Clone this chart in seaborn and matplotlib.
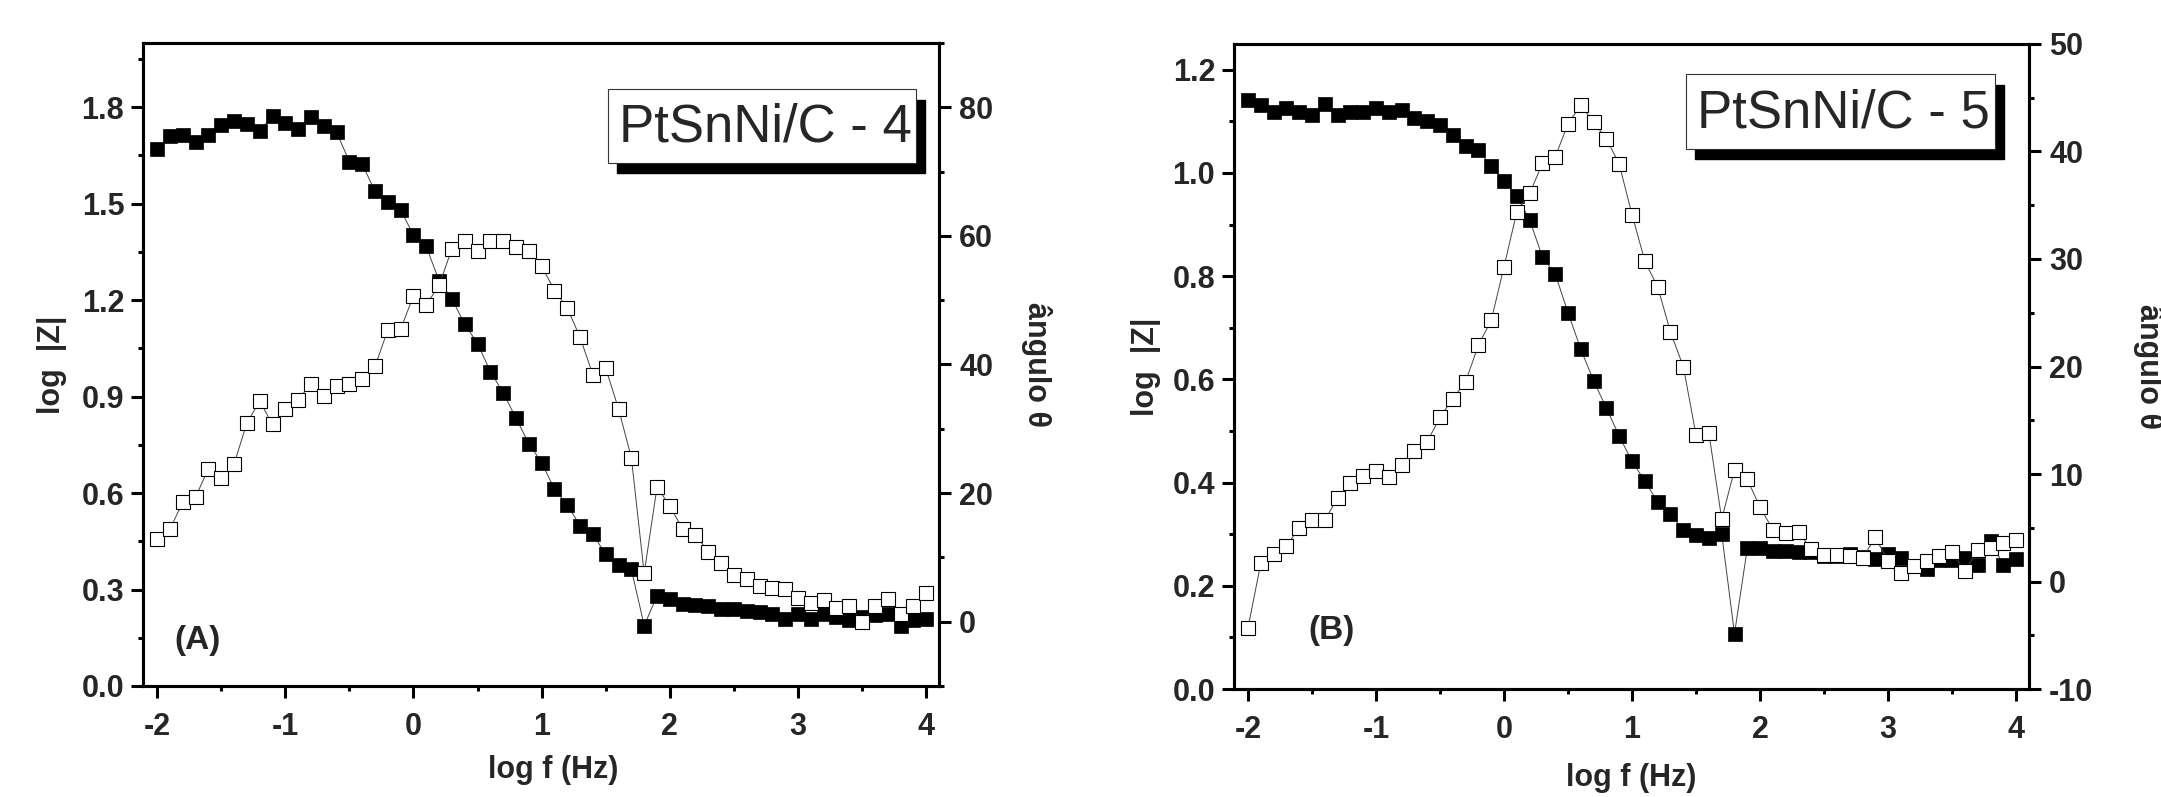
import numpy as np
import pandas as pd
import seaborn as sns
import matplotlib
matplotlib.use('Agg')
import matplotlib.pyplot as plt
from matplotlib.ticker import MultipleLocator
from matplotlib.patches import Rectangle
from matplotlib import font_manager

# eixo x comum: log f (Hz)
log_f = [-2.0, -1.9, -1.8, -1.7, -1.6, -1.5, -1.4, -1.3, -1.2, -1.1,
         -1.0, -0.9, -0.8, -0.7, -0.6, -0.5, -0.4, -0.3, -0.2, -0.1,
         0.0, 0.1, 0.2, 0.3, 0.4, 0.5, 0.6, 0.7, 0.8, 0.9,
         1.0, 1.1, 1.2, 1.3, 1.4, 1.5, 1.6, 1.7, 1.8, 1.9,
         2.0, 2.1, 2.2, 2.3, 2.4, 2.5, 2.6, 2.7, 2.8, 2.9,
         3.0, 3.1, 3.2, 3.3, 3.4, 3.5, 3.6, 3.7, 3.8, 3.9, 4.0]

# (A) PtSnNi/C - 4
logz_a = [1.670, 1.710, 1.713, 1.691, 1.713, 1.746, 1.757, 1.749, 1.726, 1.773,
          1.752, 1.733, 1.770, 1.741, 1.722, 1.631, 1.623, 1.539, 1.504, 1.481,
          1.402, 1.367, 1.260, 1.204, 1.125, 1.065, 0.978, 0.912, 0.833, 0.754,
          0.695, 0.612, 0.564, 0.498, 0.472, 0.409, 0.375, 0.363, 0.188, 0.280,
          0.272, 0.256, 0.253, 0.248, 0.240, 0.240, 0.232, 0.229, 0.224, 0.209,
          0.224, 0.209, 0.224, 0.216, 0.205, 0.216, 0.221, 0.224, 0.185, 0.205, 0.209]
ang_a = [12.8, 14.4, 18.6, 19.4, 23.8, 22.4, 24.5, 30.9, 34.3, 30.7,
         33.1, 34.5, 37.0, 35.1, 36.6, 37.0, 37.7, 39.7, 45.4, 45.5,
         50.7, 49.3, 52.3, 58.0, 59.2, 57.7, 59.2, 59.2, 58.3, 57.7,
         55.3, 51.5, 48.8, 44.2, 38.4, 39.4, 33.1, 25.5, 7.5, 20.9,
         18.0, 14.4, 13.5, 10.9, 9.1, 7.3, 6.7, 5.6, 5.3, 5.1,
         3.7, 2.9, 3.3, 2.1, 2.5, 0.0, 2.5, 3.6, 1.2, 2.4, 4.4]

# (B) PtSnNi/C - 5
logz_b = [1.141, 1.131, 1.119, 1.126, 1.119, 1.113, 1.133, 1.113, 1.119, 1.119,
          1.126, 1.119, 1.123, 1.106, 1.101, 1.093, 1.074, 1.052, 1.044, 1.013,
          0.985, 0.955, 0.909, 0.837, 0.804, 0.729, 0.658, 0.597, 0.544, 0.490,
          0.441, 0.403, 0.362, 0.340, 0.308, 0.298, 0.293, 0.301, 0.107, 0.273,
          0.273, 0.268, 0.268, 0.265, 0.265, 0.258, 0.258, 0.261, 0.255, 0.251,
          0.261, 0.253, 0.238, 0.233, 0.250, 0.250, 0.253, 0.241, 0.286, 0.241, 0.251]
ang_b = [-4.3, 1.7, 2.6, 3.3, 5.0, 5.7, 5.7, 7.8, 9.2, 9.8,
         10.3, 9.7, 10.8, 12.1, 13.0, 15.3, 17.0, 18.6, 22.0, 24.3,
         29.3, 34.4, 36.1, 38.9, 39.5, 42.6, 44.3, 42.7, 41.2, 38.8,
         34.1, 29.8, 27.4, 23.2, 20.0, 13.6, 13.8, 5.8, 10.4, 9.5,
         6.9, 4.8, 4.5, 4.6, 3.0, 2.5, 2.5, 2.4, 2.2, 4.1,
         1.9, 0.8, 1.4, 1.9, 2.4, 2.7, 1.0, 2.9, 3.1, 3.6, 3.9]

df_a = pd.DataFrame({'log_f': log_f, 'logz': logz_a, 'ang': ang_a})
df_b = pd.DataFrame({'log_f': log_f, 'logz': logz_b, 'ang': ang_b})

sns.set_theme(style='white')
plt.rcParams['font.family'] = ['Liberation Sans', 'DejaVu Sans']
plt.rcParams['axes.linewidth'] = 2.2
plt.rcParams['axes.unicode_minus'] = False

# fonte estreita para a caixa, se existir
fontes = {f.name for f in font_manager.fontManager.ttflist}
if 'Liberation Sans Narrow' in fontes:
    box_font, box_size = ['Liberation Sans Narrow', 'Liberation Sans'], 48
else:
    box_font, box_size = ['Liberation Sans', 'DejaVu Sans'], 38

fig = plt.figure(figsize=(21.61, 7.97), dpi=100)

paineis = [
    dict(df=df_a, pos=[0.0662, 0.1393, 0.3683, 0.8068], ylim=(0, 2.0), ylim2=(-10, 90),
         loc=(0.3, 0.15), loc2=(20, 10), nome='PtSnNi/C - 4', letra='(A)',
         caixa=(0.584, 0.813, 0.387, 0.115), letra_xy=(0.069, 0.0715),
         xl=(0.515, -0.13), yl=-0.114, yl2=1.122),
    dict(df=df_b, pos=[0.5710, 0.1355, 0.3679, 0.8093], ylim=(0, 1.25), ylim2=(-10, 50),
         loc=(0.2, 0.1), loc2=(10, 5), nome='PtSnNi/C - 5', letra='(B)',
         caixa=(0.5686, 0.837, 0.3886, 0.116), letra_xy=(0.123, 0.09),
         xl=(0.50, -0.138), yl=-0.111, yl2=1.150),
]

for p in paineis:
    ax = fig.add_axes(p['pos'])
    ax2 = ax.twinx()

    sns.lineplot(data=p['df'], x='log_f', y='logz', ax=ax, color='#444444', linewidth=0.7,
                 marker='s', markersize=9.5, markerfacecolor='black',
                 markeredgecolor='black', markeredgewidth=0.5)
    sns.lineplot(data=p['df'], x='log_f', y='ang', ax=ax2, color='#444444', linewidth=0.7,
                 marker='s', markersize=9.5, markerfacecolor='white',
                 markeredgecolor='black', markeredgewidth=0.8)

    ax.set_xlim(-2.11, 4.1)
    ax.set_ylim(*p['ylim'])
    ax2.set_ylim(*p['ylim2'])

    ax.xaxis.set_major_locator(MultipleLocator(1))
    ax.xaxis.set_minor_locator(MultipleLocator(0.5))
    ax.yaxis.set_major_locator(MultipleLocator(p['loc'][0]))
    ax.yaxis.set_minor_locator(MultipleLocator(p['loc'][1]))
    ax2.yaxis.set_major_locator(MultipleLocator(p['loc2'][0]))
    ax2.yaxis.set_minor_locator(MultipleLocator(p['loc2'][1]))
    ax.yaxis.set_major_formatter(plt.FormatStrFormatter('%.1f'))

    for a in (ax, ax2):
        a.tick_params(which='major', direction='out', length=8.5, width=2.2,
                      labelsize=22, color='black')
        a.tick_params(which='minor', direction='out', length=3.6, width=2.2, color='black')
        for lab in a.get_xticklabels() + a.get_yticklabels():
            lab.set_fontweight('bold')
        for s in a.spines.values():
            s.set_color('black')
            s.set_linewidth(2.2)
    ax.tick_params(axis='x', which='both', bottom=True, top=False, pad=10)
    ax.tick_params(axis='y', which='both', left=True, right=False, pad=5)
    ax2.tick_params(axis='y', which='both', right=True, left=False, pad=6)

    ax.set_xlabel('log f (Hz)', fontsize=22, fontweight='bold')
    ax.set_ylabel('log  |Z|', fontsize=22, fontweight='bold')
    ax2.set_ylabel('ângulo θ', fontsize=22, fontweight='bold', rotation=270)
    for lab in (ax.xaxis.label, ax.yaxis.label, ax2.yaxis.label):
        lab.set_va('center')
        lab.set_ha('center')
    ax.xaxis.set_label_coords(*p['xl'])
    ax.yaxis.set_label_coords(p['yl'], 0.5)
    ax2.yaxis.set_label_coords(p['yl2'], 0.5)

    ax2.text(p['letra_xy'][0], p['letra_xy'][1], p['letra'], transform=ax2.transAxes,
             fontsize=24, fontweight='bold', ha='center', va='center')

    # caixa com sombra
    bx, by, bw, bh = p['caixa']
    sombra = Rectangle((bx + 0.0113, by - 0.0160), bw, bh, transform=ax2.transAxes,
                       facecolor='black', edgecolor='black', zorder=10, clip_on=False)
    caixa = Rectangle((bx, by), bw, bh, transform=ax2.transAxes,
                      facecolor='white', edgecolor='#333333', linewidth=0.8,
                      zorder=11, clip_on=False)
    ax2.add_patch(sombra)
    ax2.add_patch(caixa)
    ax2.text(bx + bw / 2 + 0.004, by + bh / 2 - 0.002, p['nome'], transform=ax2.transAxes,
             fontsize=box_size, family=box_font, ha='center', va='center',
             zorder=12)

fig.savefig('out.png', dpi=100)
plt.close()
